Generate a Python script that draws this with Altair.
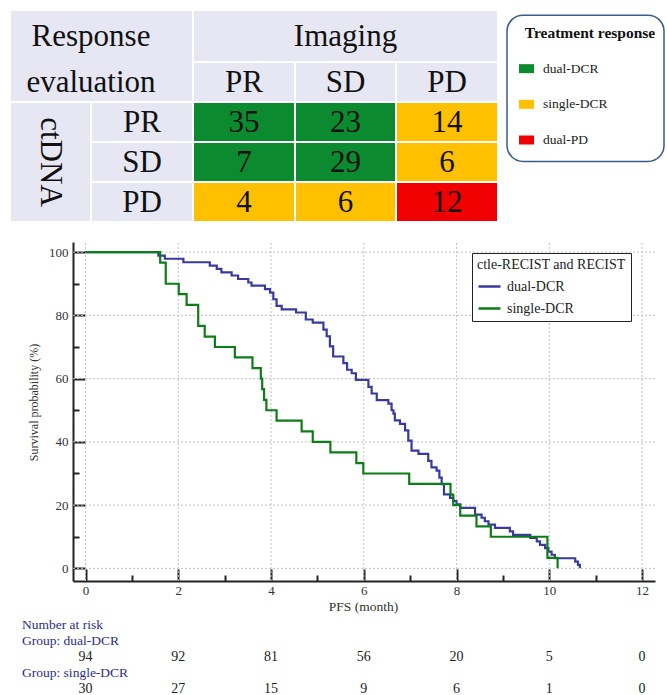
import altair as alt
import pandas as pd

SERIF = "Liberation Serif"

# ---------------- data ----------------
imaging_levels = ["PR", "SD", "PD"]
ctdna_levels = ["PR", "SD", "PD"]
counts = [[35, 23, 14],
          [7, 29, 6],
          [4, 6, 12]]
response = [["dual-DCR", "dual-DCR", "single-DCR"],
            ["dual-DCR", "dual-DCR", "single-DCR"],
            ["single-DCR", "single-DCR", "dual-PD"]]
treatment_cats = ["dual-DCR", "single-DCR", "dual-PD"]
treatment_colors = ["#0b8a30", "#ffc000", "#f00000"]

groups = ["dual-DCR", "single-DCR"]
group_colors = ["#3a3a9e", "#0d7d17"]

dual_t = [0, 1.57, 1.71, 2.11, 2.68, 2.83, 2.93, 3.15, 3.29, 3.51, 3.58, 3.87, 3.98,
          4.05, 4.12, 4.23, 4.54, 4.75, 4.90, 5.13, 5.20, 5.27, 5.34, 5.56, 5.64, 5.74,
          5.83, 6.10, 6.17, 6.28, 6.53, 6.60, 6.64, 6.67, 6.78, 6.89, 6.96, 7.03, 7.18,
          7.39, 7.46, 7.57, 7.63, 7.68, 7.73, 7.86, 7.93, 8.00, 8.08, 8.40, 8.54, 8.61,
          8.69, 8.83, 9.15, 9.22, 9.59, 9.73, 9.80, 9.91, 9.98, 10.05, 10.12, 10.56,
          10.62, 10.66]
dual_s = [100, 98.9, 97.9, 96.8, 95.7, 94.7, 93.6, 92.6, 91.5, 90.4, 89.4, 88.3, 87.2,
          85.1, 83.0, 81.9, 80.9, 78.7, 77.7, 75.5, 73.4, 70.2, 67.0, 64.9, 62.8, 61.7,
          59.6, 57.4, 55.3, 53.2, 52.1, 50.0, 48.9, 46.8, 45.7, 43.6, 40.4, 37.2, 36.2,
          34.0, 31.9, 30.9, 28.7, 26.6, 23.4, 22.3, 21.3, 20.2, 19.1, 17.0, 16.0, 14.9,
          13.8, 12.8, 11.7, 10.6, 9.6, 8.5, 7.4, 6.4, 5.3, 4.3, 3.2, 2.1,
          1.1, 0]
single_t = [0, 1.61, 1.73, 2.01, 2.18, 2.43, 2.57, 2.79, 3.22, 3.60, 3.78, 3.81, 3.85,
            3.90, 4.12, 4.66, 4.90, 5.28, 5.84, 5.99, 6.98, 7.87, 7.93, 8.08, 8.43, 8.74,
            9.96, 10.18]
single_s = [100, 96.7, 90.0, 86.7, 83.3, 76.7, 73.3, 70.0, 66.7, 63.3, 60.0, 56.7, 53.3,
            50.0, 46.7, 43.3, 40.0, 36.7, 33.3, 30.0, 26.7, 23.3, 20.0, 16.7, 13.3, 10.0,
            3.3, 0]

x_major = [0, 2, 4, 6, 8, 10, 12]
x_minor = [1, 3, 5, 7, 9, 11]
y_major = [0, 20, 40, 60, 80, 100]
y_minor = [10, 30, 50, 70, 90]

risk_times = [0, 2, 4, 6, 8, 10, 12]
risk_dual = [94, 92, 81, 56, 20, 5, 0]
risk_single = [30, 27, 15, 9, 6, 1, 0]
risk_labels = ["Number at risk", "Group: dual-DCR", "Group: single-DCR"]

# ---------------- table ----------------
cells = [dict(label="Response\nevaluation", c0=0, c1=2, r0=0, r1=2, fill="header", angle=0),
         dict(label="Imaging", c0=2, c1=5, r0=0, r1=1, fill="header", angle=0),
         dict(label="ctDNA", c0=0, c1=1, r0=2, r1=5, fill="header", angle=90)]
for i, lev in enumerate(imaging_levels):
    cells.append(dict(label=lev, c0=2 + i, c1=3 + i, r0=1, r1=2, fill="header", angle=0))
for j, lev in enumerate(ctdna_levels):
    cells.append(dict(label=lev, c0=1, c1=2, r0=2 + j, r1=3 + j, fill="header", angle=0))
for j in range(3):
    for i in range(3):
        cells.append(dict(label=str(counts[j][i]), c0=2 + i, c1=3 + i, r0=2 + j, r1=3 + j,
                          fill=response[j][i], angle=0))
df_cells = pd.DataFrame(cells)

# one text item per line, lines spread evenly over the cell height
text_rows = []
for c in cells:
    parts = c["label"].split("\n")
    n = len(parts)
    for k, p in enumerate(parts):
        text_rows.append(dict(label=p, angle=c["angle"],
                              cm=(c["c0"] + c["c1"]) / 2,
                              rm=c["r0"] + (c["r1"] - c["r0"]) * (k + 0.5) / n))
df_text = pd.DataFrame(text_rows)

tx = alt.Scale(domain=[0, 1, 2, 3, 4, 5], range=[10, 91, 193, 295, 396, 498], nice=False, zero=False)
ty = alt.Scale(domain=[0, 1, 2, 3, 4, 5], range=[10, 62, 102, 142, 182, 222], nice=False, zero=False)
fill_scale = alt.Scale(domain=["header"] + treatment_cats, range=["#e7e7f3"] + treatment_colors)

rects = alt.Chart(df_cells).mark_rect(stroke="white", strokeWidth=2).encode(
    x=alt.X("c0:Q", scale=tx, axis=None), x2="c1:Q",
    y=alt.Y("r0:Q", scale=ty, axis=None), y2="r1:Q",
    color=alt.Color("fill:N", scale=fill_scale, legend=None),
)
texts = alt.Chart(df_text).mark_text(
    font=SERIF, fontSize=31, color="#111", baseline="middle", align="center", dy=1
).encode(
    x=alt.X("cm:Q", scale=tx, axis=None),
    y=alt.Y("rm:Q", scale=ty, axis=None),
    text="label:N",
    angle=alt.Angle("angle:Q", scale=None),
)

# ---------------- treatment legend ----------------
df_tr = pd.DataFrame({"cat": treatment_cats, "idx": list(range(len(treatment_cats)))})
lx = alt.Scale(domain=[0, 1], range=[507, 664], nice=False, zero=False)
ly = alt.Scale(domain=[-1, 2], range=[33, 140], nice=False, zero=False)

box = alt.Chart(pd.DataFrame({"k": [0]})).mark_rect(
    fill="white", stroke="#3c5b8c", strokeWidth=1.5, cornerRadius=16
).encode(
    x=alt.XDatum(0, scale=lx, axis=None), x2=alt.X2Datum(1),
    y=alt.YDatum(-1.5, scale=ly, axis=None), y2=alt.Y2Datum(2.6),
)
tr_title = alt.Chart(pd.DataFrame({"t": ["Treatment response"]})).mark_text(
    font=SERIF, fontSize=15.5, fontWeight="bold", color="#111", align="center", baseline="middle"
).encode(
    x=alt.value(590), y=alt.YDatum(-1, scale=ly, axis=None), text="t:N"
)
swatches = alt.Chart(df_tr).mark_point(
    shape="M-1,-0.6H1V0.6H-1Z", filled=True, size=225, opacity=1, strokeWidth=0
).encode(
    x=alt.value(526.5), y=alt.Y("idx:Q", scale=ly, axis=None),
    color=alt.Color("cat:N", scale=alt.Scale(domain=treatment_cats, range=treatment_colors), legend=None),
)
tr_labels = alt.Chart(df_tr).mark_text(
    font=SERIF, fontSize=13.5, color="#222", align="left", baseline="middle"
).encode(
    x=alt.value(543), y=alt.Y("idx:Q", scale=ly, axis=None), text="cat:N"
)

# ---------------- Kaplan-Meier ----------------
kx = alt.Scale(domain=[-0.27, 12.28], range=[73, 655], nice=False, zero=False)
ky = alt.Scale(domain=[-4, 103.2], range=[581, 242], nice=False, zero=False)

df_km = pd.concat([
    pd.DataFrame({"t": dual_t, "s": dual_s, "group": groups[0]}),
    pd.DataFrame({"t": single_t, "s": single_s, "group": groups[1]}),
], ignore_index=True)

tick_style = dict(grid=False, domain=False, labels=False, ticks=True, tickColor="#222",
                  tickWidth=2, title=None)
grid_style = dict(color="#c2c2c2", strokeDash=[2, 2], strokeWidth=1)

vgrid = alt.Chart(pd.DataFrame({"t": x_major})).mark_rule(**grid_style).encode(
    x=alt.X("t:Q", scale=kx,
            axis=alt.Axis(orient="top", offset=-581, values=x_major, tickSize=12, **tick_style)),
    y=alt.YDatum(-4, scale=ky,
                 axis=alt.Axis(orient="right", offset=-594, values=y_minor, tickSize=6, **tick_style)),
    y2=alt.Y2Datum(103.2),
)
hgrid = alt.Chart(pd.DataFrame({"s": y_major})).mark_rule(**grid_style).encode(
    y=alt.Y("s:Q", scale=ky,
            axis=alt.Axis(orient="right", offset=-594, values=y_major, tickSize=12, **tick_style)),
    x=alt.XDatum(-0.27, scale=kx,
                 axis=alt.Axis(orient="top", offset=-581, values=x_minor, tickSize=6, **tick_style)),
    x2=alt.X2Datum(12.28),
)

lines = alt.Chart(df_km).mark_line(interpolate="step-after", strokeWidth=2.2).encode(
    x=alt.X("t:Q", scale=kx, axis=alt.Axis(
        orient="bottom", offset=-114, values=x_major, grid=False, ticks=False, tickSize=0,
        labelPadding=3, labelFlush=False, domainColor="#222", domainWidth=2,
        labelFont=SERIF, labelFontSize=13, labelColor="#333",
        title="PFS (month)", titleFont=SERIF, titleFontSize=13.5, titleFontWeight="normal",
        titleColor="#333", titleX=363, titleY=25, titleBaseline="middle")),
    y=alt.Y("s:Q", scale=ky, axis=alt.Axis(
        orient="left", offset=-73, values=y_major, grid=False, ticks=False, tickSize=0,
        labelPadding=5, labelFlush=False, domainColor="#222", domainWidth=2,
        labelFont=SERIF, labelFontSize=13, labelColor="#333",
        title="Survival probability (%)", titleFont=SERIF, titleFontSize=12,
        titleFontWeight="normal", titleColor="#333", titleX=-40, titleY=402,
        titleBaseline="middle", titleAngle=270)),
    color=alt.Color("group:N", scale=alt.Scale(domain=groups, range=group_colors),
                    legend=alt.Legend(
                        orient="none", legendX=472, legendY=253,
                        title="ctle-RECIST and RECIST", titleFont=SERIF, titleFontSize=14,
                        titleFontWeight="normal", titleColor="#222", titlePadding=2,
                        labelFont=SERIF, labelFontSize=14, labelColor="#222", labelOffset=5,
                        symbolType="stroke", symbolSize=484, symbolStrokeWidth=2.5,
                        strokeColor="#222", fillColor="white", padding=5, rowPadding=2,
                        cornerRadius=0)),
)

# ---------------- number at risk ----------------
ry = alt.Scale(domain=[0, 4], range=[625, 689], nice=False, zero=False)
df_risk = pd.concat([
    pd.DataFrame({"t": risk_times, "n": risk_dual, "row": 2}),
    pd.DataFrame({"t": risk_times, "n": risk_single, "row": 4}),
], ignore_index=True)
df_rlab = pd.DataFrame({"label": risk_labels, "row": [0, 1, 3]})

risk_nums = alt.Chart(df_risk).mark_text(
    font=SERIF, fontSize=14, color="#222", baseline="middle", align="center"
).encode(
    x=alt.X("t:Q", scale=kx, axis=None),
    y=alt.Y("row:Q", scale=ry, axis=None),
    text="n:Q",
)
risk_lab = alt.Chart(df_rlab).mark_text(
    font=SERIF, fontSize=13.5, color="#2d2d8a", baseline="middle", align="left"
).encode(
    x=alt.value(22),
    y=alt.Y("row:Q", scale=ry, axis=None),
    text="label:N",
)

chart = alt.layer(
    rects, texts, box, tr_title, swatches, tr_labels,
    vgrid, hgrid, lines, risk_nums, risk_lab,
).resolve_scale(
    x="independent", y="independent", color="independent"
).resolve_axis(
    x="independent", y="independent"
).properties(
    width=667, height=695,
    autosize=alt.AutoSizeParams(type="none"),
    padding=0, background="white",
).configure_view(stroke=None)

chart.save("out.html", embed_options={"renderer": "svg", "actions": False})
